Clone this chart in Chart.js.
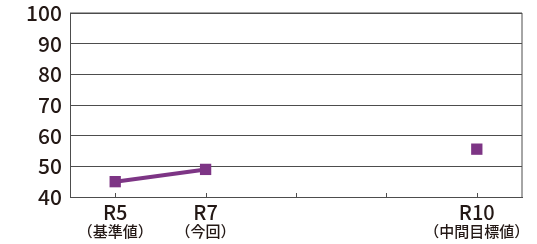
<!DOCTYPE html>
<html>
<head>
<meta charset="utf-8">
<script src="https://cdn.jsdelivr.net/npm/chart.js@4/dist/chart.umd.min.js"></script>
<style>
  html, body { margin: 0; padding: 0; background: #fff; }
  #wrap { width: 537px; height: 244px; position: relative; }
</style>
</head>
<body>
<div id="wrap"><canvas id="chart"></canvas></div>
<script>
// ----- data -----
const categories = ['R5', 'R7', '', '', 'R10'];
const subLabels = ['（基準値）', '（今回）', '', '', '（中間目標値）'];
const actualValues = [45, 49, null, null, null];   // R5 -> R7 line
const targetValues = [null, null, null, null, 55.6]; // R10 target point
const yTicks = [40, 50, 60, 70, 80, 90, 100];

const purple = '#7d3585';
const textColor = '#231815';
const font = '"Noto Sans CJK JP", "Noto Sans", sans-serif';

// draws border box, inward x ticks and the second line of x labels
const extrasPlugin = {
    id: 'extras',
    afterDraw(chart) {
        const ctx = chart.ctx;
        const area = chart.chartArea;
        const x = chart.scales.x;
        ctx.save();
        ctx.strokeStyle = '#4d4d4d';
        ctx.lineWidth = 1;
        ctx.beginPath();
        ctx.moveTo(area.left, area.top);
        ctx.lineTo(area.right, area.top);
        ctx.lineTo(area.right, area.bottom);
        ctx.stroke();

        // small tick marks pointing up into plot
        categories.forEach((c, i) => {
            const px = Math.round(x.getPixelForValue(i)) + 0.5;
            ctx.beginPath();
            ctx.moveTo(px, area.bottom);
            ctx.lineTo(px, area.bottom - 4);
            ctx.stroke();
        });

        // second line of labels
        ctx.fillStyle = textColor;
        ctx.font = '500 15px ' + font;
        ctx.textAlign = 'center';
        ctx.textBaseline = 'middle';
        subLabels.forEach((s, i) => {
            if (s) ctx.fillText(s, x.getPixelForValue(i), 231);
        });
        ctx.restore();
    }
};

const ctx = document.getElementById('chart').getContext('2d');
new Chart(ctx, {
    type: 'line',
    data: {
        labels: categories,
        datasets: [
            {
                data: actualValues,
                borderColor: purple,
                backgroundColor: purple,
                borderWidth: 4,
                pointStyle: 'rect',
                pointRadius: 8,
                pointBorderWidth: 0,
                spanGaps: false
            },
            {
                data: targetValues,
                borderColor: purple,
                backgroundColor: purple,
                showLine: false,
                pointStyle: 'rect',
                pointRadius: 8,
                pointBorderWidth: 0
            }
        ]
    },
    plugins: [extrasPlugin],
    options: {
        responsive: true,
        maintainAspectRatio: false,
        animation: false,
        layout: { padding: { top: 13, right: 15, left: 0, bottom: 0 } },
        plugins: {
            legend: { display: false },
            tooltip: { enabled: false }
        },
        scales: {
            x: {
                offset: true,
                grid: { display: false, drawTicks: false },
                border: { display: true, color: '#4d4d4d', width: 1 },
                ticks: {
                    color: textColor,
                    font: { family: font, size: 20, weight: '500' },
                    padding: 3,
                    maxRotation: 0,
                    autoSkip: false
                },
                afterFit(scale) { scale.height = 47; }
            },
            y: {
                min: 40,
                max: 100,
                afterBuildTicks(scale) { scale.ticks = yTicks.map(v => ({ value: v })); },
                grid: { color: '#4d4d4d', lineWidth: 1, drawTicks: false },
                border: { display: true, color: '#4d4d4d', width: 1 },
                ticks: {
                    color: textColor,
                    font: { family: font, size: 21, weight: '500' },
                    padding: 8
                },
                afterFit(scale) {
                    scale.width = 70;
                    scale.paddingTop = 0;
                    scale.paddingBottom = 0;
                }
            }
        }
    }
});
</script>
</body>
</html>
